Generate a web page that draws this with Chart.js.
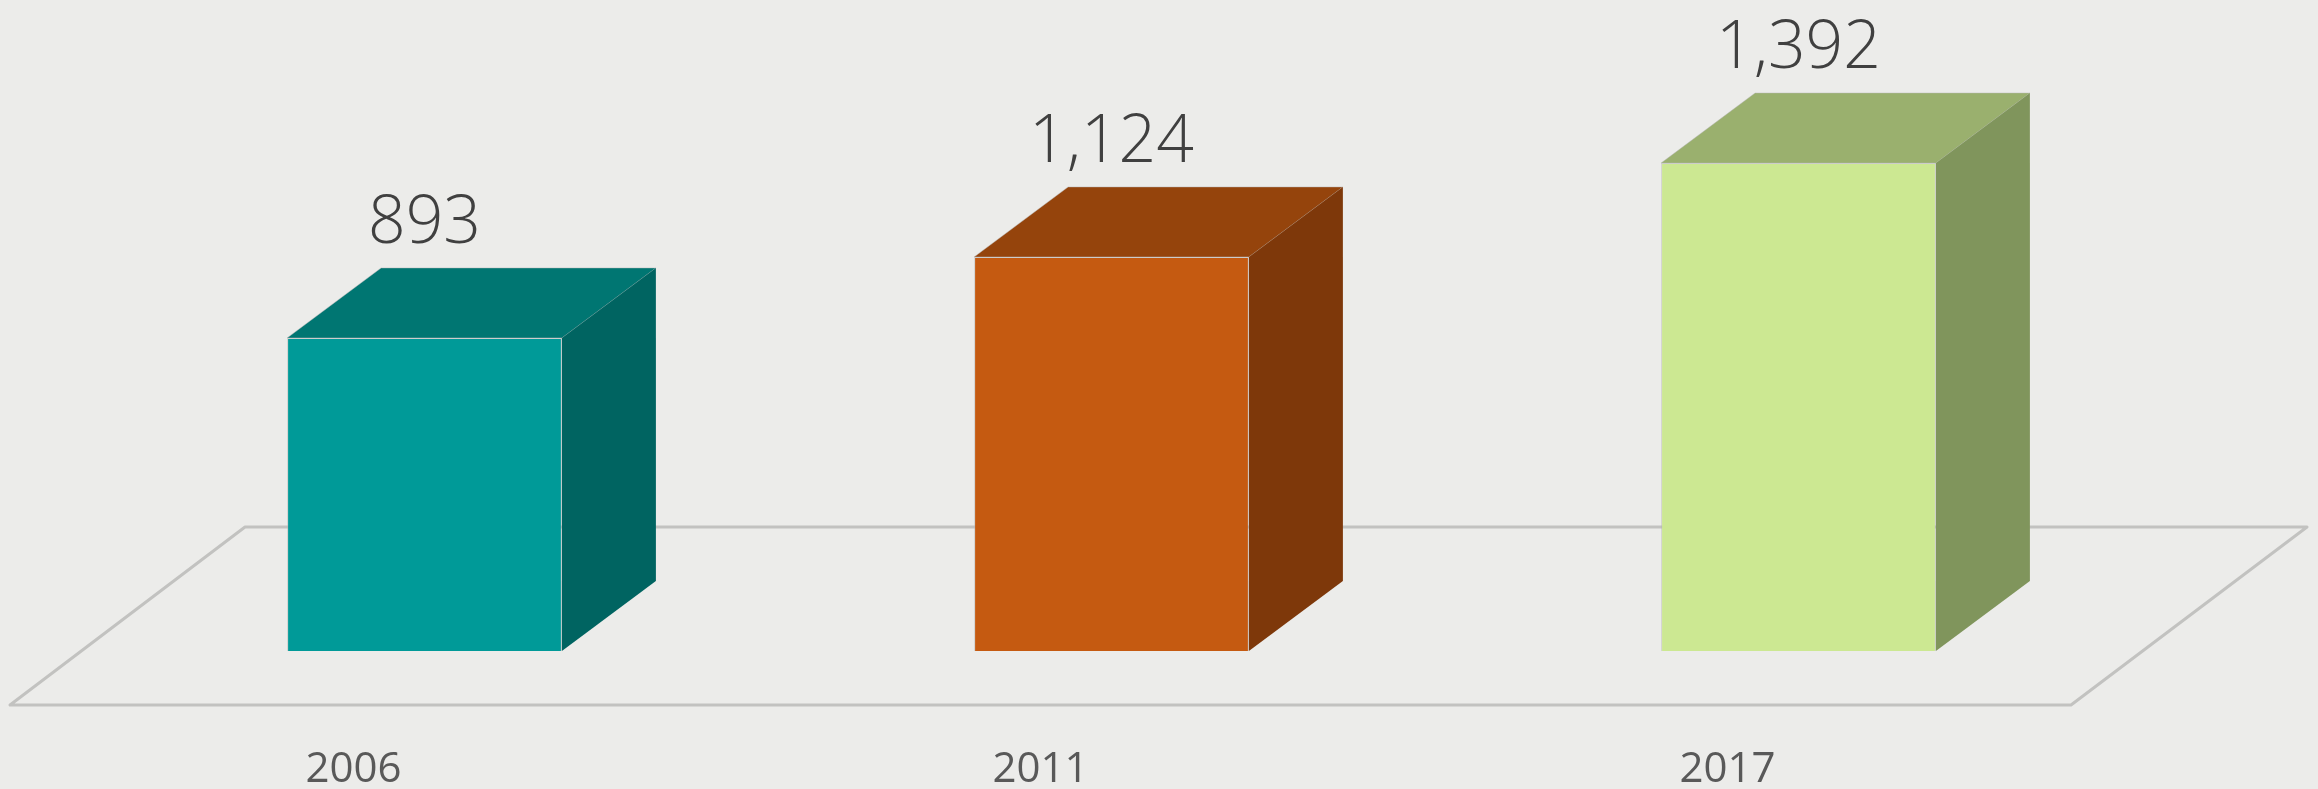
<!DOCTYPE html>
<html>
<head>
<meta charset="utf-8">
<script src="https://cdn.jsdelivr.net/npm/chart.js@4.4.1/dist/chart.umd.min.js"></script>
<style>
    body { margin: 0; background: #ececea; }
    #myChart { display: block; }
</style>
</head>
<body>
<canvas id="myChart" width="2318" height="789"></canvas>
<script>
// data
const years = ['2006', '2011', '2017'];
const values = [893, 1124, 1392];

// warna: depan, atas, samping
const frontColors = ['#009a98', '#c55a11', '#cce892'];
const topColors = ['#007672', '#95440c', '#9ab06e'];
const sideColors = ['#006461', '#7e380a', '#80955c'];

// kedalaman kotak 3d
const barDepthX = 94;
const barDepthY = 70;

// lantai (floor) di belakang bar
const floorPlugin = {
    id: 'floor',
    beforeDatasetsDraw(chart) {
        const c = chart.ctx;
        const area = chart.chartArea;
        const base = chart.scales.y.getPixelForValue(0);
        c.save();
        c.strokeStyle = '#c2c2c0';
        c.lineWidth = 3;
        c.lineJoin = 'round';
        c.beginPath();
        c.moveTo(area.left - 71, base + 54);
        c.lineTo(area.right - 71, base + 54);
        c.lineTo(area.right + 165, base - 124);
        c.lineTo(area.left + 164, base - 124);
        c.closePath();
        c.stroke();
        c.restore();
    }
};

// sisi atas & samping, label nilai, label tahun
const boxPlugin = {
    id: 'box3d',
    afterDatasetsDraw(chart) {
        const c = chart.ctx;
        const meta = chart.getDatasetMeta(0);
        c.save();
        meta.data.forEach((bar, i) => {
            const left = bar.x - bar.width / 2;
            const right = bar.x + bar.width / 2;
            const top = bar.y;
            const base = bar.base;

            c.strokeStyle = 'rgba(180,180,180,0.45)';
            c.lineWidth = 1;

            c.fillStyle = topColors[i];
            c.beginPath();
            c.moveTo(left, top);
            c.lineTo(left + barDepthX, top - barDepthY);
            c.lineTo(right + barDepthX, top - barDepthY);
            c.lineTo(right, top);
            c.closePath();
            c.fill();
            c.stroke();

            c.fillStyle = sideColors[i];
            c.beginPath();
            c.moveTo(right, top);
            c.lineTo(right + barDepthX, top - barDepthY);
            c.lineTo(right + barDepthX, base - barDepthY);
            c.lineTo(right, base);
            c.closePath();
            c.fill();

            // label nilai
            c.fillStyle = '#404040';
            c.font = '300 66px "Open Sans"';
            c.textAlign = 'center';
            c.textBaseline = 'alphabetic';
            c.fillText(values[i].toLocaleString('en-US'), bar.x, top - barDepthY - 25);
        });

        // label tahun di depan lantai
        const xScale = chart.scales.x;
        c.fillStyle = '#595959';
        c.font = '42px "Open Sans"';
        c.textAlign = 'center';
        years.forEach((year, i) => {
            c.fillText(year, xScale.getPixelForValue(i) - 71, 782);
        });
        c.restore();
    }
};

const ctx = document.getElementById('myChart').getContext('2d');
const myChart = new Chart(ctx, {
    type: 'bar',
    data: {
        labels: years,
        datasets: [{
            data: values,
            backgroundColor: frontColors,
            borderColor: 'rgba(180,180,180,0.45)',
            borderWidth: 1,
            categoryPercentage: 0.8,
            barPercentage: 0.5
        }]
    },
    options: {
        responsive: false,
        animation: false,
        layout: {
            padding: { left: 81, right: 176, top: 20, bottom: 138 }
        },
        plugins: {
            legend: { display: false },
            tooltip: { enabled: false }
        },
        scales: {
            x: { display: false },
            y: { display: false, min: 0, max: 1800 }
        }
    },
    plugins: [floorPlugin, boxPlugin]
});
</script>
</body>
</html>
